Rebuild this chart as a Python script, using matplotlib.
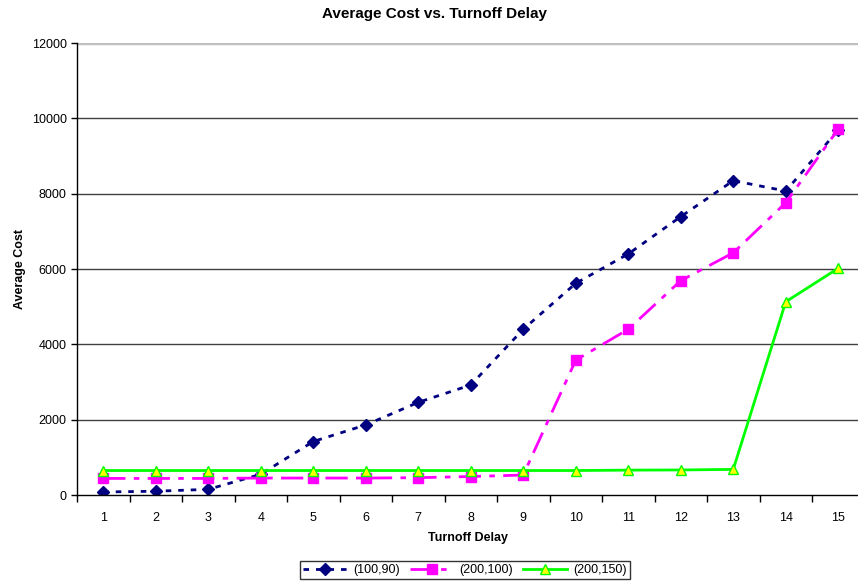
import matplotlib
matplotlib.use('Agg')
import matplotlib.pyplot as plt
import numpy as np

plt.rcParams['font.family'] = ['Liberation Sans', 'DejaVu Sans']

# Turnoff delay steps and the average cost for each (x, y) setting
delays = list(range(1, 16))
cost_100_90 = [80, 100, 150, 550, 1420, 1860, 2460, 2920, 4400, 5620,
               6400, 7390, 8345, 8070, 9690]
cost_200_100 = [440, 440, 440, 450, 450, 450, 460, 490, 530, 3580,
                4400, 5690, 6430, 7760, 9715]
cost_200_150 = [650, 650, 650, 650, 650, 650, 650, 650, 650, 650,
                660, 665, 680, 5130, 6020]
series_labels = ["(100,90)", "(200,100)", "(200,150)"]
y_ticks = [0, 2000, 4000, 6000, 8000, 10000, 12000]

fig = plt.figure(figsize=(8.58, 5.82), dpi=100)
ax = fig.add_axes([77 / 858, 1 - 495 / 582, 781 / 858, 452 / 582])

ax.plot(delays, cost_100_90, color="#000080", linestyle=(0, (2, 2.5)),
        linewidth=2, marker="D", markersize=6, label=series_labels[0])
ax.plot(delays, cost_200_100, color="#FF00FF",
        linestyle=(0, (8, 3, 2, 3)), linewidth=2, marker="s",
        markersize=6.5, label=series_labels[1])
ax.plot(delays, cost_200_150, color="#00FF00", linestyle="-",
        linewidth=2, marker="^", markersize=7, markerfacecolor="#FFFF00",
        markeredgecolor="#00FF00", markeredgewidth=1, label=series_labels[2])

ax.set_ylim(0, 12000)
ax.set_xlim(0.5, 0.5 + 781 / 52.5)
ax.set_yticks(y_ticks)
ax.set_xticks(delays)
ax.set_xticks(np.arange(0.5, 15.5, 1), minor=True)
ax.tick_params(axis="x", which="major", length=0, pad=12, labelsize=9)
ax.tick_params(axis="x", which="minor", length=5, width=1, direction="out")
ax.tick_params(axis="y", length=4, width=1, direction="out", labelsize=9)

# horizontal gridlines, the top one in light grey
for t in y_ticks[1:-1]:
    ax.axhline(t, color="#404040", linewidth=1, zorder=0)
ax.axhline(12000, color="#C0C0C0", linewidth=2.5, zorder=0)

for side in ["top", "right"]:
    ax.spines[side].set_visible(False)
ax.spines["left"].set_linewidth(1)
ax.spines["bottom"].set_linewidth(1)

fig.text(434 / 858, 1 - 14 / 582, "Average Cost vs. Turnoff Delay",
         ha="center", va="center", fontsize=11, weight="bold")
ax.set_xlabel("Turnoff Delay", fontsize=9, weight="bold", labelpad=6)
ax.set_ylabel("Average Cost", fontsize=9, weight="bold", labelpad=4)

leg = fig.legend(loc="center", bbox_to_anchor=(465 / 858, 1 - 570 / 582),
                 ncol=3, fontsize=9, frameon=True, fancybox=False,
                 edgecolor="black", handlelength=3.5, columnspacing=0.8,
                 handletextpad=0.5, borderpad=0.25)
leg.get_frame().set_linewidth(1)

plt.savefig("out.png", dpi=100)
plt.close()
